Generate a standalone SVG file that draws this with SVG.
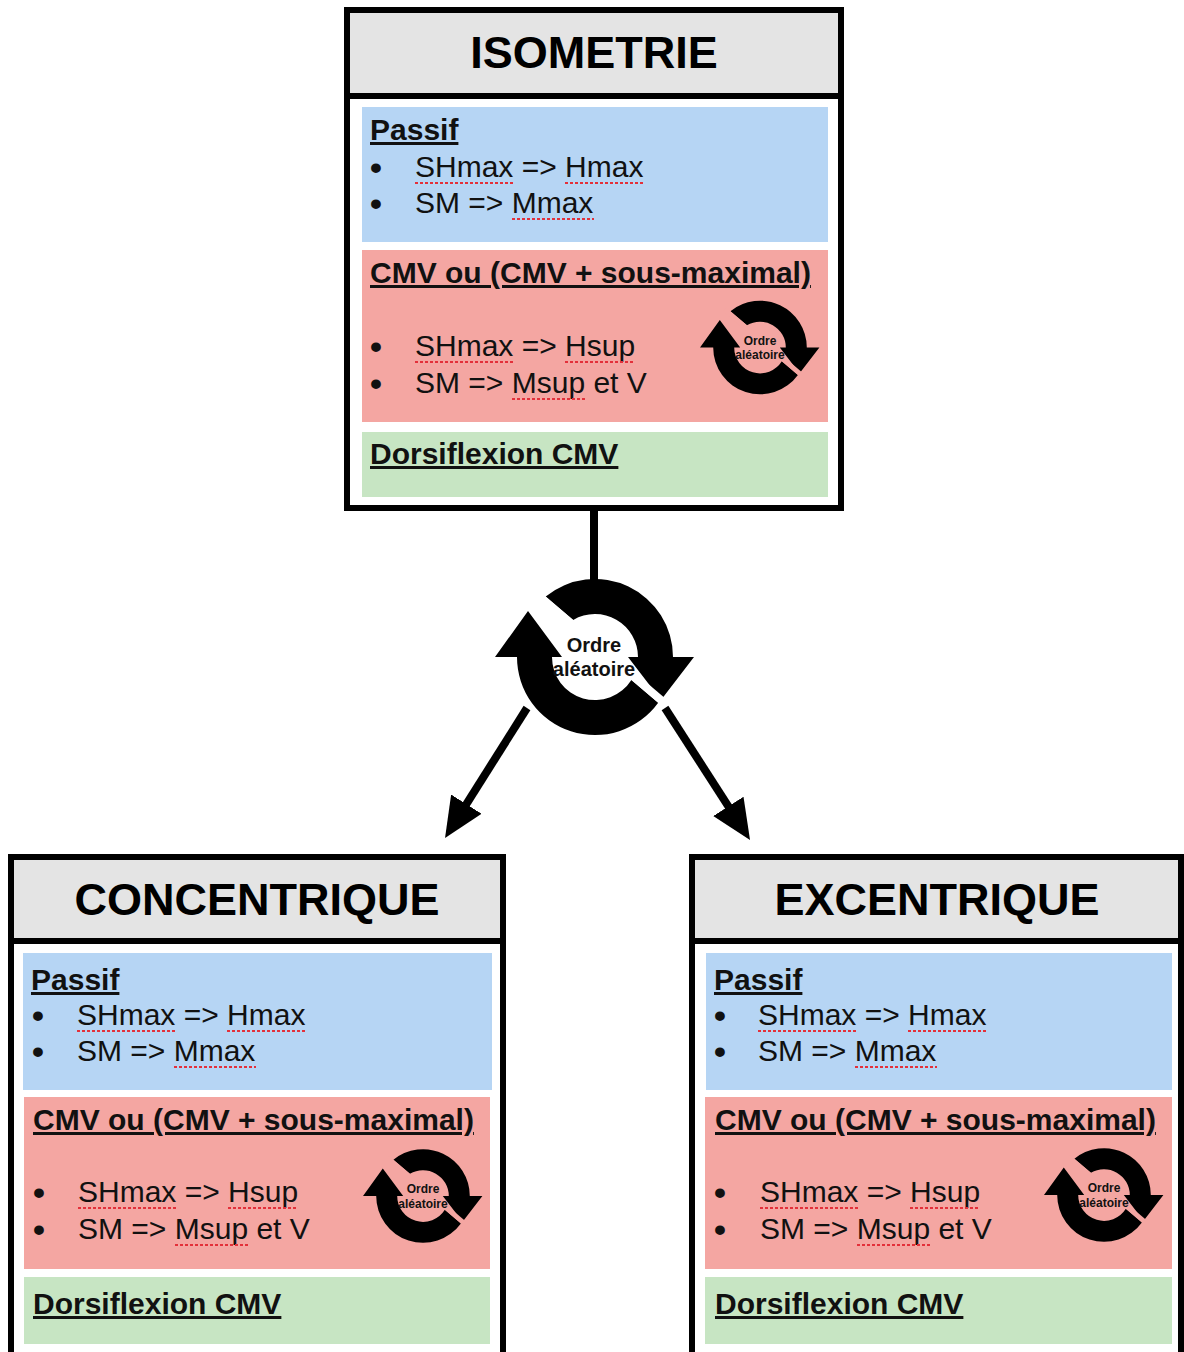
<svg xmlns="http://www.w3.org/2000/svg" width="1184" height="1352" viewBox="0 0 1184 1352">
<style>
.box{fill:#ffffff;stroke:#000;stroke-width:6}
.hdr{fill:#e4e4e4}
.sep{stroke:#000;stroke-width:6}
.blue{fill:#b6d5f4}
.red{fill:#f4a6a2}
.green{fill:#c7e5c3}
.title{font-family:"Liberation Sans",Arial,sans-serif;font-weight:bold;font-size:45px;text-anchor:middle;fill:#000}
.h{font-family:"Liberation Sans",Arial,sans-serif;font-weight:bold;font-size:30px;text-decoration:underline;fill:#111}
.t{font-family:"Liberation Sans",Arial,sans-serif;font-size:30px;fill:#111}
.bl{font-family:"Liberation Sans",Arial,sans-serif;font-weight:bold;font-size:34px;fill:#111}
.ic{font-family:"Liberation Sans",Arial,sans-serif;font-weight:bold;font-size:20px;text-anchor:middle;fill:#111}
.ics{font-family:"Liberation Sans",Arial,sans-serif;font-weight:bold;font-size:12px;text-anchor:middle;fill:#111}
.sp{stroke:#e3303a;stroke-width:2;stroke-dasharray:3 2;fill:none}
.conn{stroke:#000;stroke-width:8;fill:none}
</style>
<defs>
<marker id="ah" markerUnits="userSpaceOnUse" markerWidth="44" markerHeight="40" viewBox="0 -20 44 40" refX="8" refY="0" orient="auto">
<path d="M0,-18 L40,0 L0,18 Z" fill="#000"/>
</marker>
<g id="cyc">
<path d="M-49.3,-60.4 A78,78 0 0 1 78,0 L99,0 L66,43 L33,0 L43,0 A43,43 0 0 0 -21.8,-37 Z" fill="#000"/>
<path d="M63.2,45.8 A78,78 0 0 1 -78,0 L-100,0 L-67,-46 L-33,0 L-43,0 A43,43 0 0 0 36.4,23 Z" fill="#000"/>
<line x1="-58.8" y1="-63.2" x2="66.9" y2="43.7" stroke="currentColor" stroke-width="8"/>
</g>
</defs>
<rect width="1184" height="1352" fill="#ffffff"/>

<g id="connectors">
<line class="conn" x1="594" y1="508" x2="594" y2="584"/>
<line class="conn" x1="527" y1="708" x2="462.1" y2="810.9" marker-end="url(#ah)"/>
<line class="conn" x1="665" y1="708" x2="732.7" y2="813.1" marker-end="url(#ah)"/>
</g>

<g id="cycle-main">
<use href="#cyc" transform="translate(595,657)" style="color:#ffffff"/>
<text class="ic" x="594" y="652">Ordre</text>
<text class="ic" x="594" y="676">aléatoire</text>
</g>

<g id="isometrie">
<rect class="box" x="347" y="10" width="494" height="498"/>
<rect class="hdr" x="350" y="13" width="488" height="80"/>
<line class="sep" x1="347" y1="96" x2="841" y2="96"/>
<text class="title" x="594" y="68">ISOMETRIE</text>
<rect class="blue" x="362" y="107" width="466" height="135"/>
<text class="h" x="370" y="140">Passif</text>
<text class="bl" x="370" y="179">•</text>
<text class="t" x="415" y="177">SHmax =&gt; Hmax</text>
<text class="bl" x="370" y="215">•</text>
<text class="t" x="415" y="213">SM =&gt; Mmax</text>
<line class="sp" x1="415" y1="183" x2="513" y2="183"/>
<line class="sp" x1="565" y1="183" x2="644" y2="183"/>
<line class="sp" x1="512" y1="219" x2="594" y2="219"/>
<rect class="red" x="362" y="250" width="466" height="172"/>
<text class="h" x="370" y="283">CMV ou (CMV + sous-maximal)</text>
<text class="bl" x="370" y="358">•</text>
<text class="t" x="415" y="356">SHmax =&gt; Hsup</text>
<text class="bl" x="370" y="395">•</text>
<text class="t" x="415" y="393">SM =&gt; Msup et V</text>
<line class="sp" x1="415" y1="362" x2="513" y2="362"/>
<line class="sp" x1="565" y1="362" x2="635" y2="362"/>
<line class="sp" x1="512" y1="399" x2="585" y2="399"/>
<use href="#cyc" transform="translate(760,347.5) scale(0.6)" style="color:#f4a6a2"/>
<text class="ics" x="760" y="344.5">Ordre</text>
<text class="ics" x="760" y="359">aléatoire</text>
<rect class="green" x="362" y="432" width="466" height="65"/>
<text class="h" x="370" y="464">Dorsiflexion CMV</text>
</g>

<g id="concentrique">
<rect class="box" x="11" y="857" width="492" height="510"/>
<rect class="hdr" x="14" y="860" width="486" height="78"/>
<line class="sep" x1="11" y1="941" x2="503" y2="941"/>
<text class="title" x="257" y="915">CONCENTRIQUE</text>
<rect class="blue" x="23" y="953" width="469" height="137"/>
<text class="h" x="31" y="990">Passif</text>
<text class="bl" x="32" y="1027">•</text>
<text class="t" x="77" y="1025">SHmax =&gt; Hmax</text>
<text class="bl" x="32" y="1063">•</text>
<text class="t" x="77" y="1061">SM =&gt; Mmax</text>
<line class="sp" x1="77" y1="1031" x2="175" y2="1031"/>
<line class="sp" x1="227" y1="1031" x2="306" y2="1031"/>
<line class="sp" x1="174" y1="1067" x2="256" y2="1067"/>
<rect class="red" x="24" y="1097" width="466" height="172"/>
<text class="h" x="33" y="1130">CMV ou (CMV + sous-maximal)</text>
<text class="bl" x="33" y="1204">•</text>
<text class="t" x="78" y="1202">SHmax =&gt; Hsup</text>
<text class="bl" x="33" y="1241">•</text>
<text class="t" x="78" y="1239">SM =&gt; Msup et V</text>
<line class="sp" x1="78" y1="1208" x2="176" y2="1208"/>
<line class="sp" x1="228" y1="1208" x2="298" y2="1208"/>
<line class="sp" x1="175" y1="1245" x2="248" y2="1245"/>
<use href="#cyc" transform="translate(423,1196) scale(0.6)" style="color:#f4a6a2"/>
<text class="ics" x="423" y="1193">Ordre</text>
<text class="ics" x="423" y="1207.5">aléatoire</text>
<rect class="green" x="24" y="1277" width="466" height="67"/>
<text class="h" x="33" y="1314">Dorsiflexion CMV</text>
</g>

<g id="excentrique">
<rect class="box" x="692" y="857" width="489" height="510"/>
<rect class="hdr" x="695" y="860" width="483" height="78"/>
<line class="sep" x1="692" y1="941" x2="1181" y2="941"/>
<text class="title" x="937" y="915">EXCENTRIQUE</text>
<rect class="blue" x="706" y="953" width="466" height="137"/>
<text class="h" x="714" y="990">Passif</text>
<text class="bl" x="714" y="1027">•</text>
<text class="t" x="758" y="1025">SHmax =&gt; Hmax</text>
<text class="bl" x="714" y="1063">•</text>
<text class="t" x="758" y="1061">SM =&gt; Mmax</text>
<line class="sp" x1="758" y1="1031" x2="856" y2="1031"/>
<line class="sp" x1="908" y1="1031" x2="987" y2="1031"/>
<line class="sp" x1="855" y1="1067" x2="937" y2="1067"/>
<rect class="red" x="705" y="1097" width="467" height="172"/>
<text class="h" x="715" y="1130">CMV ou (CMV + sous-maximal)</text>
<text class="bl" x="714" y="1204">•</text>
<text class="t" x="760" y="1202">SHmax =&gt; Hsup</text>
<text class="bl" x="714" y="1241">•</text>
<text class="t" x="760" y="1239">SM =&gt; Msup et V</text>
<line class="sp" x1="760" y1="1208" x2="858" y2="1208"/>
<line class="sp" x1="910" y1="1208" x2="980" y2="1208"/>
<line class="sp" x1="857" y1="1245" x2="930" y2="1245"/>
<use href="#cyc" transform="translate(1104,1195) scale(0.6)" style="color:#f4a6a2"/>
<text class="ics" x="1104" y="1192">Ordre</text>
<text class="ics" x="1104" y="1206.5">aléatoire</text>
<rect class="green" x="705" y="1277" width="467" height="67"/>
<text class="h" x="715" y="1314">Dorsiflexion CMV</text>
</g>
</svg>
